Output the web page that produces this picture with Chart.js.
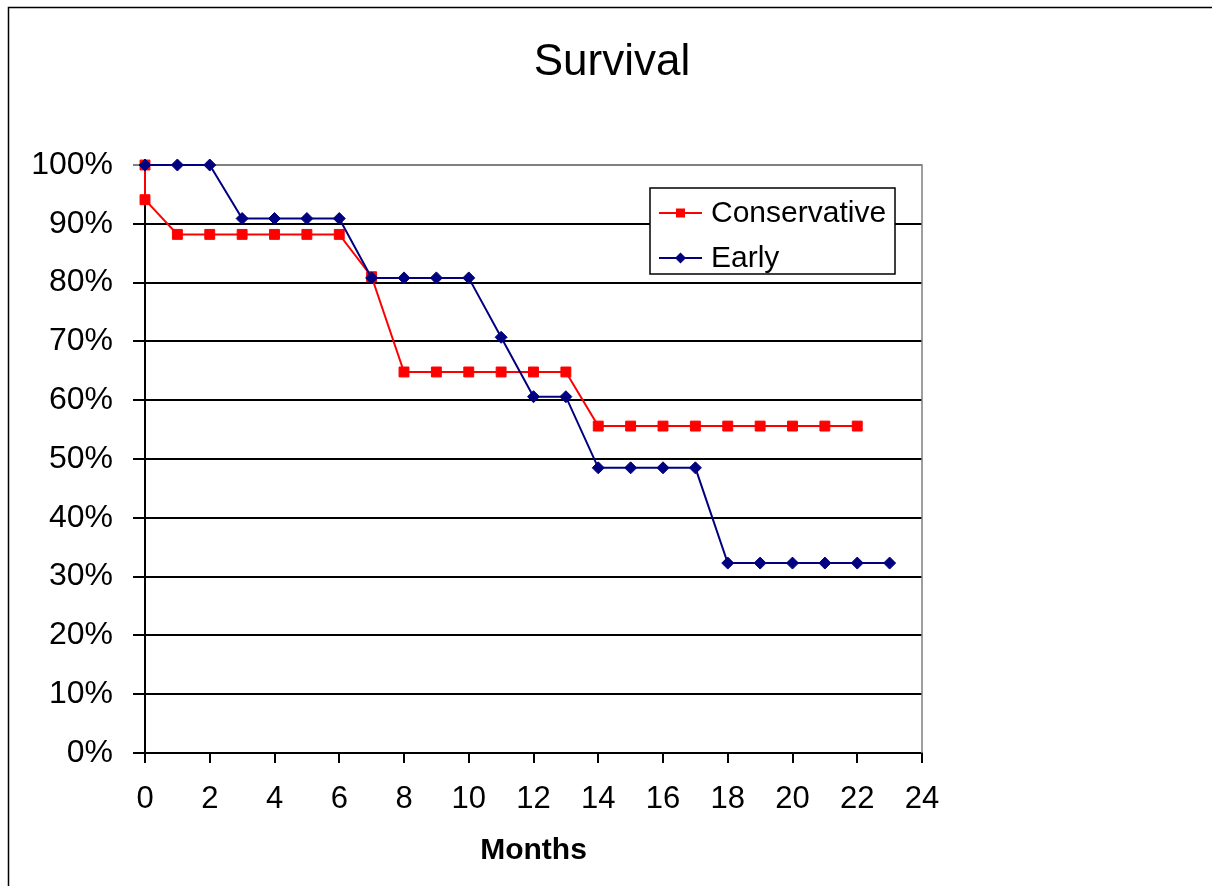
<!DOCTYPE html>
<html>
<head>
<meta charset="utf-8">
<title>Survival</title>
<script src="https://cdn.jsdelivr.net/npm/chart.js@4/dist/chart.umd.min.js"></script>
<style>
  html, body { margin: 0; padding: 0; background: #fff; }
  canvas { display: block; }
</style>
</head>
<body>
<canvas id="survivalChart" width="1212" height="886"></canvas>
<script>
// Kaplan-Meier style survival by month for the two treatment groups
const conservativeMonths = [0, 0, 1, 2, 3, 4, 5, 6, 7, 8, 9, 10, 11, 12, 13, 14, 15, 16, 17, 18, 19, 20, 21, 22];
const conservativeSurvival = [1.0, 0.941, 0.882, 0.882, 0.882, 0.882, 0.882, 0.882, 0.81,
  0.648, 0.648, 0.648, 0.648, 0.648, 0.648,
  0.556, 0.556, 0.556, 0.556, 0.556, 0.556, 0.556, 0.556, 0.556];

const earlyMonths = [0, 1, 2, 3, 4, 5, 6, 7, 8, 9, 10, 11, 12, 13, 14, 15, 16, 17, 18, 19, 20, 21, 22, 23];
const earlySurvival = [1.0, 1.0, 1.0, 0.909, 0.909, 0.909, 0.909, 0.808, 0.808, 0.808, 0.808,
  0.707, 0.606, 0.606, 0.485, 0.485, 0.485, 0.485, 0.323, 0.323, 0.323, 0.323, 0.323, 0.323];

const monthTicks = [0, 2, 4, 6, 8, 10, 12, 14, 16, 18, 20, 22, 24];
const survivalTicks = [0, 0.1, 0.2, 0.3, 0.4, 0.5, 0.6, 0.7, 0.8, 0.9, 1.0];

const seriesNames = ['Conservative', 'Early'];
const chartTitle = 'Survival';
const xAxisTitle = 'Months';

const FONT = '"Liberation Sans", Arial, Helvetica, sans-serif';
Chart.defaults.font.family = FONT;
Chart.defaults.color = '#000';

const toPoints = (xs, ys) => xs.map((x, i) => ({ x: x, y: ys[i] }));

// Frame: outer chart border, centred title, grey top/right edges of the plot area
const framePlugin = {
  id: 'frame',
  beforeDatasetsDraw(chart) {
    const { ctx, chartArea: a } = chart;
    ctx.save();
    ctx.strokeStyle = '#808080';
    ctx.lineWidth = 1.5;
    ctx.beginPath();
    ctx.moveTo(a.left, a.top);
    ctx.lineTo(a.right, a.top);
    ctx.lineTo(a.right, a.bottom);
    ctx.stroke();
    ctx.restore();
  },
  afterDraw(chart) {
    const { ctx } = chart;
    ctx.save();
    ctx.fillStyle = '#000';
    ctx.font = '44px ' + FONT;
    ctx.textAlign = 'center';
    ctx.textBaseline = 'middle';
    ctx.fillText(chartTitle, 612, 63);

    ctx.strokeStyle = '#000';
    ctx.lineWidth = 1.5;
    ctx.beginPath();
    ctx.moveTo(8.5, chart.height + 2);
    ctx.lineTo(8.5, 7.5);
    ctx.lineTo(chart.width + 2, 7.5);
    ctx.stroke();
    ctx.restore();
  }
};

// Boxed legend placed inside the plot area
const boxLegendPlugin = {
  id: 'boxLegend',
  afterDatasetsDraw(chart) {
    const { ctx } = chart;
    const box = { x: 650, y: 188, w: 245, h: 86 };
    ctx.save();
    ctx.fillStyle = '#fff';
    ctx.fillRect(box.x, box.y, box.w, box.h);
    ctx.strokeStyle = '#000';
    ctx.lineWidth = 1.5;
    ctx.strokeRect(box.x, box.y, box.w, box.h);

    const rows = [213, 258];
    chart.data.datasets.forEach((ds, i) => {
      const y = rows[i];
      ctx.strokeStyle = ds.borderColor;
      ctx.lineWidth = ds.borderWidth;
      ctx.beginPath();
      ctx.moveTo(659, y);
      ctx.lineTo(702, y);
      ctx.stroke();
      ctx.fillStyle = ds.pointBackgroundColor;
      ctx.beginPath();
      if (ds.pointStyle === 'rect') {
        ctx.rect(680.5 - 4.5, y - 4.5, 9, 9);
      } else {
        ctx.moveTo(680.5 - 5.5, y);
        ctx.lineTo(680.5, y - 5.5);
        ctx.lineTo(680.5 + 5.5, y);
        ctx.lineTo(680.5, y + 5.5);
        ctx.closePath();
      }
      ctx.fill();
      ctx.fillStyle = '#000';
      ctx.font = '30px ' + FONT;
      ctx.textAlign = 'left';
      ctx.textBaseline = 'middle';
      ctx.fillText(ds.label, 711, y + 1);
    });
    ctx.restore();
  }
};

new Chart(document.getElementById('survivalChart'), {
  type: 'line',
  data: {
    datasets: [
      {
        label: seriesNames[0],
        data: toPoints(conservativeMonths, conservativeSurvival),
        borderColor: '#FF0000',
        backgroundColor: '#FF0000',
        pointBackgroundColor: '#FF0000',
        pointBorderColor: '#FF0000',
        borderWidth: 2,
        pointStyle: 'rect',
        pointRadius: 7,
        pointBorderWidth: 1,
        tension: 0,
        fill: false,
        clip: false,
        order: 1
      },
      {
        label: seriesNames[1],
        data: toPoints(earlyMonths, earlySurvival),
        borderColor: '#000080',
        backgroundColor: '#000080',
        pointBackgroundColor: '#000080',
        pointBorderColor: '#000080',
        borderWidth: 2,
        pointStyle: 'rectRot',
        pointRadius: 6,
        pointBorderWidth: 1,
        tension: 0,
        fill: false,
        clip: false,
        order: 0
      }
    ]
  },
  options: {
    responsive: false,
    animation: false,
    events: [],
    layout: { padding: { left: 0, right: 290, top: 165, bottom: 0 } },
    plugins: {
      legend: { display: false },
      tooltip: { enabled: false },
      title: { display: false }
    },
    scales: {
      x: {
        type: 'linear',
        min: 0,
        max: 24,
        afterBuildTicks: s => { s.ticks = monthTicks.map(v => ({ value: v })); },
        afterFit: s => { s.height = 133; },
        ticks: {
          autoSkip: false,
          maxRotation: 0,
          padding: 18,
          color: '#000',
          font: { size: 31, family: FONT }
        },
        grid: {
          drawOnChartArea: false,
          drawTicks: true,
          tickLength: 10,
          color: '#000',
          lineWidth: 2
        },
        border: { display: true, color: '#000', width: 2 },
        title: {
          display: true,
          text: xAxisTitle,
          color: '#000',
          font: { size: 30, weight: 'bold', family: FONT },
          padding: { top: 0, bottom: 17 }
        }
      },
      y: {
        type: 'linear',
        min: 0,
        max: 1,
        afterBuildTicks: s => { s.ticks = survivalTicks.map(v => ({ value: v })); },
        afterFit: s => { s.width = 145; },
        ticks: {
          padding: 20,
          color: '#000',
          font: { size: 32, family: FONT },
          callback: v => Math.round(v * 100) + '%'
        },
        grid: {
          drawTicks: true,
          tickLength: 12,
          color: c => (c.tick && c.tick.value === 1 ? '#808080' : '#000'),
          lineWidth: 2
        },
        border: { display: true, color: '#000', width: 2 }
      }
    }
  },
  plugins: [framePlugin, boxLegendPlugin]
});
</script>
</body>
</html>
